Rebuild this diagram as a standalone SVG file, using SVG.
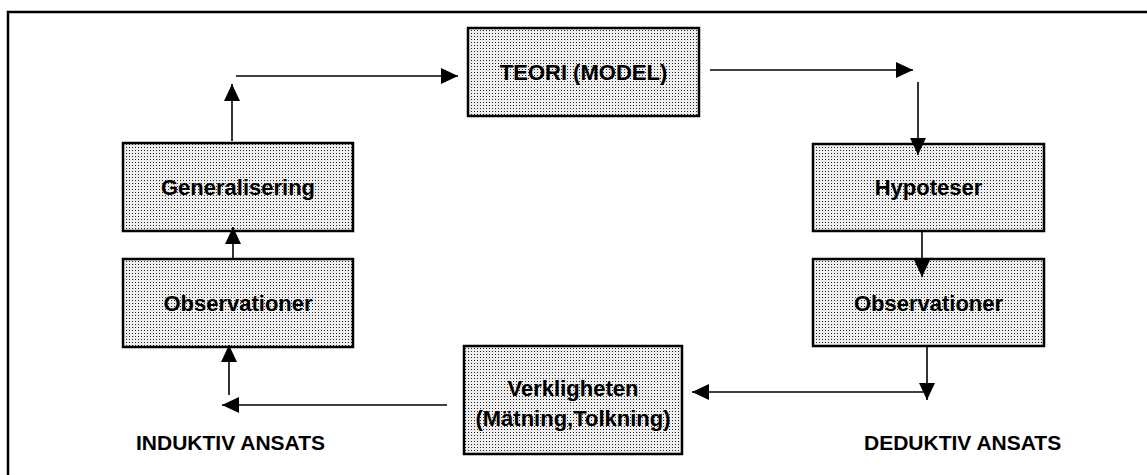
<svg xmlns="http://www.w3.org/2000/svg" width="1147" height="475" viewBox="0 0 1147 475">
<style>
.box{fill:url(#dots);stroke:#000;stroke-width:2.5}
.t{font-family:"Liberation Sans",Arial,sans-serif;font-weight:bold;font-size:22px;fill:#000;text-anchor:middle}
.lbl{font-family:"Liberation Sans",Arial,sans-serif;font-weight:bold;font-size:21px;fill:#000}
.c{stroke:#000;stroke-width:1.6;fill:none;marker-end:url(#ah)}
.frame{stroke:#000;stroke-width:2.5;fill:none}
</style>
<defs>
<pattern id="dots" width="3" height="3" patternUnits="userSpaceOnUse">
<rect width="3" height="3" fill="#eeeeee"/>
<rect width="1" height="1" fill="#222"/>
</pattern>
<marker id="ah" markerUnits="userSpaceOnUse" viewBox="0 0 17 16" refX="17" refY="8" markerWidth="17" markerHeight="16" orient="auto">
<path d="M0,0 L17,8 L0,16 Z" fill="#000"/>
</marker>
</defs>
<path class="frame" d="M8,475 V12 H1147"/>
<g id="teori"><rect class="box" x="468" y="28" width="231" height="88"/><text class="t" x="583.5" y="80">TEORI (MODEL)</text></g>
<g id="generalisering"><rect class="box" x="123" y="143" width="230" height="88"/><text class="t" x="238" y="195">Generalisering</text></g>
<g id="observationer-ind"><rect class="box" x="123" y="259" width="230" height="88"/><text class="t" x="238" y="311">Observationer</text></g>
<g id="hypoteser"><rect class="box" x="813" y="144" width="231" height="87"/><text class="t" x="928.5" y="195">Hypoteser</text></g>
<g id="observationer-ded"><rect class="box" x="813" y="259" width="231" height="87"/><text class="t" x="928.5" y="311">Observationer</text></g>
<g id="verkligheten"><rect class="box" x="464" y="346" width="218" height="108"/><text class="t" x="573" y="396">Verkligheten</text><text class="t" x="573" y="426">(Mätning,Tolkning)</text></g>
<g id="induktiv"><text class="lbl" x="136" y="450">INDUKTIV ANSATS</text></g>
<g id="deduktiv"><text class="lbl" x="864" y="450">DEDUKTIV ANSATS</text></g>
<g id="connectors">
<path class="c" d="M232,141 V84"/>
<path class="c" d="M236,76 H458"/>
<path class="c" d="M710,70 H913"/>
<path class="c" d="M918,82 V155"/>
<path class="c" d="M922,231 V277"/>
<path class="c" d="M927,347 V400"/>
<path class="c" d="M927,392 H692"/>
<path class="c" d="M447,405 H222"/>
<path class="c" d="M229,395 V345"/>
<path class="c" d="M233,259 V227"/>
</g>
</svg>
